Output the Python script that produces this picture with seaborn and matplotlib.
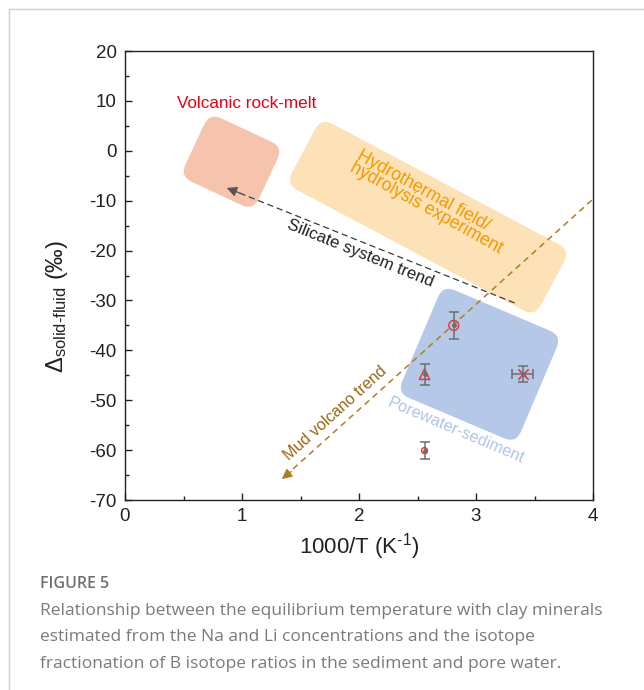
import numpy as np
import pandas as pd
import matplotlib
matplotlib.use("Agg")
import matplotlib.pyplot as plt
import seaborn as sns
from matplotlib.patches import FancyBboxPatch
from matplotlib.transforms import Affine2D, ScaledTranslation
from matplotlib.lines import Line2D

# sample points: 1000/T vs Delta(solid-fluid)
pt_names = ["circle", "triangle", "cross", "small"]
pt_x = [2.81, 2.56, 3.40, 2.56]
pt_y = [-35.0, -44.8, -44.7, -60.1]
pt_xerr = [0.0, 0.0, 0.09, 0.0]
pt_yerr = [2.7, 2.1, 1.6, 1.7]
pt_markers = ["o", "^", "x", "o"]
pt_sizes = [50, 55, 55, 18]

# field boxes: center (data), long / short side (px), tilt (deg, clockwise)
box_names = ["Volcanic rock-melt", "Hydrothermal", "Porewater-sediment"]
box_cx = [0.91, 2.59, 3.03]
box_cy = [-2.2, -13.3, -42.8]
box_len = [81, 282, 129]
box_wid = [70, 75, 117]
box_tilt = [25, 28, 23]
box_colors = ["#F6C4AC", "#FDE2B8", "#B5C8E8"]

# trend arrows: tail -> head
silicate_tail = (3.33, -30.5)
silicate_head = (0.87, -7.45)
mud_tail = (3.99, -9.9)
mud_head = (1.34, -65.8)

df = pd.DataFrame({"name": pt_names, "x": pt_x, "y": pt_y,
                   "xerr": pt_xerr, "yerr": pt_yerr})

sns.set_theme(style="ticks")
plt.rcParams["font.family"] = ["Liberation Sans", "DejaVu Sans"]
plt.rcParams["mathtext.fontset"] = "custom"
plt.rcParams["mathtext.rm"] = "Liberation Sans"
plt.rcParams["mathtext.it"] = "Liberation Sans:italic"
plt.rcParams["axes.unicode_minus"] = False

fig = plt.figure(figsize=(6.44, 6.90), dpi=100)
ax = fig.add_axes([125 / 644, 1 - 500 / 690, 468 / 644, 449 / 690])

red = "#E8383D"
mud_col = "#B57B1F"

# field boxes (rounded rectangles, rotated in screen space)
for cx, cy, L, W, t, c in zip(box_cx, box_cy, box_len, box_wid, box_tilt, box_colors):
    tr = (Affine2D().rotate_deg(-t).scale(1 / 100) + fig.dpi_scale_trans
          + ScaledTranslation(cx, cy, ax.transData))
    p = FancyBboxPatch((-L / 2, -W / 2), L, W,
                       boxstyle="round,pad=0,rounding_size=13",
                       transform=tr, facecolor=c, edgecolor="none", zorder=1)
    ax.add_patch(p)

# trend lines
ax.plot([silicate_tail[0], silicate_head[0]], [silicate_tail[1], silicate_head[1]],
        ls=(0, (5, 3)), color="#3A3A3A", lw=0.9, zorder=2)
ax.annotate("", xy=silicate_head, xytext=(silicate_head[0] + 0.12, silicate_head[1] - 1.1),
            arrowprops=dict(arrowstyle="-|>,head_length=0.5,head_width=0.25",
                            color="#555555", lw=0.9, shrinkA=0, shrinkB=0), zorder=2)
ax.plot([mud_tail[0], mud_head[0]], [mud_tail[1], mud_head[1]],
        ls=(0, (4, 3)), color=mud_col, lw=1.1, zorder=2)
ax.annotate("", xy=mud_head, xytext=(mud_head[0] + 0.08, mud_head[1] + 1.5),
            arrowprops=dict(arrowstyle="-|>,head_length=0.5,head_width=0.25",
                            color=mud_col, lw=1.0, shrinkA=0, shrinkB=0), zorder=2)

# sample points
for i, row in df.iterrows():
    m = pt_markers[i]
    if m == "x":
        sns.scatterplot(data=df.iloc[[i]], x="x", y="y", marker=m, s=pt_sizes[i],
                        color=red, linewidth=1.2, ax=ax, zorder=3)
    else:
        sns.scatterplot(data=df.iloc[[i]], x="x", y="y", marker=m, s=pt_sizes[i],
                        facecolor="none", edgecolor=red, linewidth=1.1, ax=ax, zorder=3)
    ax.errorbar(row["x"], row["y"], yerr=row["yerr"],
                xerr=row["xerr"] if row["xerr"] > 0 else None,
                fmt="none", ecolor="#6E6E6E", elinewidth=1.1, capsize=3.5,
                capthick=1.1, zorder=4)
    ax.plot(row["x"], row["y"], "o", ms=2.5, color="#6E6E6E", zorder=4)

# labels in the plot
ax.text(1.04, 9.4, "Volcanic rock-melt", color="#E60012", fontsize=12.3,
        ha="center", va="center")
ax.text(2.60, -10.3, "Hydrothermal field/\nhydrolysis experiment", color="#F39800",
        fontsize=12.8, ha="center", va="center", rotation=-29,
        rotation_mode="anchor", multialignment="left", linespacing=0.8)
ax.text(2.01, -20.6, "Silicate system trend", color="#222222", fontsize=12.2,
        ha="center", va="center", rotation=-22, rotation_mode="anchor")
ax.text(1.80, -52.7, "Mud volcano trend", color="#9A6414", fontsize=11.6,
        ha="center", va="center", rotation=42, rotation_mode="anchor")
ax.text(2.83, -56.0, "Porewater-sediment", color="#B0C4E8", fontsize=11.8,
        ha="center", va="center", rotation=-23, rotation_mode="anchor")

# axes
ax.set_xlim(0, 4)
ax.set_ylim(-70, 20)
ax.set_xticks([0, 1, 2, 3, 4])
ax.set_xticks(np.arange(0.5, 4, 1), minor=True)
ax.set_yticks(np.arange(-70, 21, 10))
ax.set_yticks(np.arange(-65, 20, 10), minor=True)
ax.tick_params(which="both", direction="in", colors="#222222", width=1,
               labelsize=13.5, top=False, right=False)
ax.tick_params(which="major", length=5, pad=6)
ax.tick_params(which="minor", length=3)
for s in ax.spines.values():
    s.set_visible(True)
    s.set_color("#222222")
    s.set_linewidth(1)
ax.set_xlabel(r"1000/T (K$^{\text{-}1}$)", fontsize=16, color="#222222", labelpad=4)
ax.set_ylabel(r"$\Delta_{\mathrm{solid}\text{-}\mathrm{fluid}}$ (‰)", fontsize=17,
              color="#222222")
ax.yaxis.set_label_coords(-0.117, 0.43)
ax.set_facecolor("white")

# page border and caption
fig.add_artist(Line2D([9 / 644, 1], [1 - 9 / 690, 1 - 9 / 690], color="#D0D0D0", lw=1))
fig.add_artist(Line2D([9 / 644, 9 / 644], [0, 1 - 9 / 690], color="#D0D0D0", lw=1))
fig.text(40 / 644, 1 - 584 / 690, "FIGURE 5", family=["Open Sans", "DejaVu Sans"],
         fontsize=11.5, color="#707070", weight="semibold", va="center")
caption = ("Relationship between the equilibrium temperature with clay minerals\n"
           "estimated from the Na and Li concentrations and the isotope\n"
           "fractionation of B isotope ratios in the sediment and pore water.")
fig.text(40 / 644, 1 - 603 / 690, caption, family=["Open Sans", "DejaVu Sans"],
         fontsize=12.5, color="#7A7A7A", va="top", linespacing=1.86)

fig.savefig("out.png", dpi=100)
